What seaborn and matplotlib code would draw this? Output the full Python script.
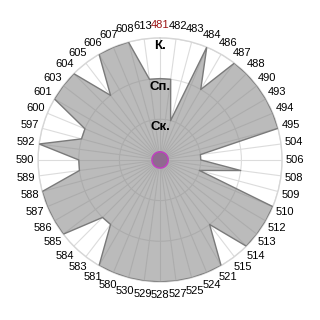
import numpy as np
import pandas as pd
import matplotlib
matplotlib.use("Agg")
import matplotlib.pyplot as plt
import seaborn as sns

categories = ["481", "482", "483", "484", "486", "487", "488", "490", "493", "494",
              "495", "504", "506", "508", "509", "510", "512", "513", "514", "515",
              "521", "524", "525", "527", "528", "529", "530", "580", "581", "583",
              "584", "585", "586", "587", "588", "589", "590", "592", "597", "600",
              "601", "603", "604", "605", "606", "607", "608", "613"]
main_values = [2, 2, 1, 3, 2, 3, 3, 3, 3, 3,
               3, 1, 1, 2, 1, 3, 3, 3, 3, 2,
               3, 3, 3, 3, 3, 3, 3, 3, 3, 2,
               2, 3, 3, 3, 3, 2, 2, 3, 2, 2,
               3, 3, 3, 2, 3, 3, 3, 2]
inner_values = [0.2] * len(categories)
level_values = [1, 2, 3]
level_labels = ["Ск.", "Сп.", "К."]
highlight = "481"

sns.set_theme(style="white")
plt.rcParams['font.family'] = ['Liberation Sans', 'DejaVu Sans']

n = len(categories)
theta = np.arange(n) * 2 * np.pi / n
df = pd.DataFrame({"theta": np.append(theta, 2 * np.pi),
                   "main": main_values + main_values[:1],
                   "inner": inner_values + inner_values[:1]})

fig = plt.figure(figsize=(3.2, 3.2), dpi=100)
ax = fig.add_axes([0.119, 0.119, 0.7625, 0.7625], projection="polar")
ax.set_theta_zero_location("N")
ax.set_theta_direction(-1)

ax.fill(df["theta"], df["main"], color="#8a8a8a", alpha=0.58, lw=0, zorder=2)
sns.lineplot(data=df, x="theta", y="main", ax=ax, color="#7a7a7a", lw=1,
             sort=False, zorder=3)
ax.fill(df["theta"], df["inner"], color="#8f6a8f", alpha=1.0, lw=0, zorder=4)
sns.lineplot(data=df, x="theta", y="inner", ax=ax, color="#c040c0", lw=1.1,
             sort=False, zorder=5)

ax.set_ylim(0, 3)
ax.set_xticks(theta)
ax.set_xticklabels(categories, fontsize=8)
for lbl in ax.get_xticklabels():
    if lbl.get_text() == highlight:
        lbl.set_color("#9a1515")
    else:
        lbl.set_color("black")
ax.tick_params(axis="x", pad=-3.5)
ax.set_yticks(level_values)
ax.set_yticklabels([])
ax.grid(True, color="#dcdcdc", lw=0.8)
ax.set_axisbelow(True)
ax.spines["polar"].set_color("#d6d6d6")
ax.spines["polar"].set_linewidth(1)
ax.set_xlabel("")
ax.set_ylabel("")

for r, t in zip(level_values, level_labels):
    ax.annotate(t, xy=(0, r), xytext=(0, -1.5), textcoords="offset points",
                ha="center", va="top", fontsize=9.5, fontweight="bold",
                color="black", zorder=6)

fig.savefig("out.png", dpi=100)
